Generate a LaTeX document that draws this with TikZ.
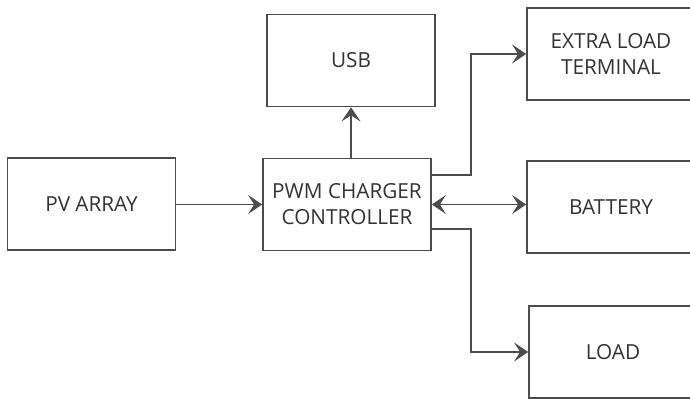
\documentclass[tikz,border=0pt]{standalone}
\usepackage{fontspec}
\setmainfont{Open Sans}
\usetikzlibrary{arrows.meta}

\begin{document}
\begin{tikzpicture}[every node/.style={font=\fontsize{11.8}{14.8}\selectfont, text=black!80},
	box/.style={draw=black!70, line width=1pt, minimum width=3.36cm, minimum height=1.84cm, align=center, inner sep=0pt},
	>={Stealth[length=2.8mm, width=3.8mm, inset=1.2mm]}]
	\useasboundingbox (0,0) rectangle (13.8,7.96);
	\node[box] (pv) at (1.83,3.88) {PV ARRAY};
	\node[box] (pwm) at (6.94,3.87) {PWM CHARGER\\CONTROLLER};
	\node[box] (usb) at (7.02,6.75) {USB};
	\node[box] (extra) at (12.22,6.88) {EXTRA LOAD\\TERMINAL};
	\node[box] (battery) at (12.22,3.82) {BATTERY};
	\node[box] (load) at (12.26,0.92) {LOAD};
	\begin{scope}[draw=black!70, line width=1pt]
	\draw[->] (pv.east |- pwm.west) -- (pwm.west);
	\draw[->] (pwm.north -| usb.south) -- (usb.south);
	\draw[->] ([yshift=0.59cm]pwm.east) -- ++(0.78,0) |- (extra.west);
	\draw[<->] (pwm.east) -- (pwm.east -| battery.west);
	\draw[->] ([yshift=-0.49cm]pwm.east) -- ++(0.78,0) |- (load.west);
	\end{scope}
\end{tikzpicture}
\end{document}
